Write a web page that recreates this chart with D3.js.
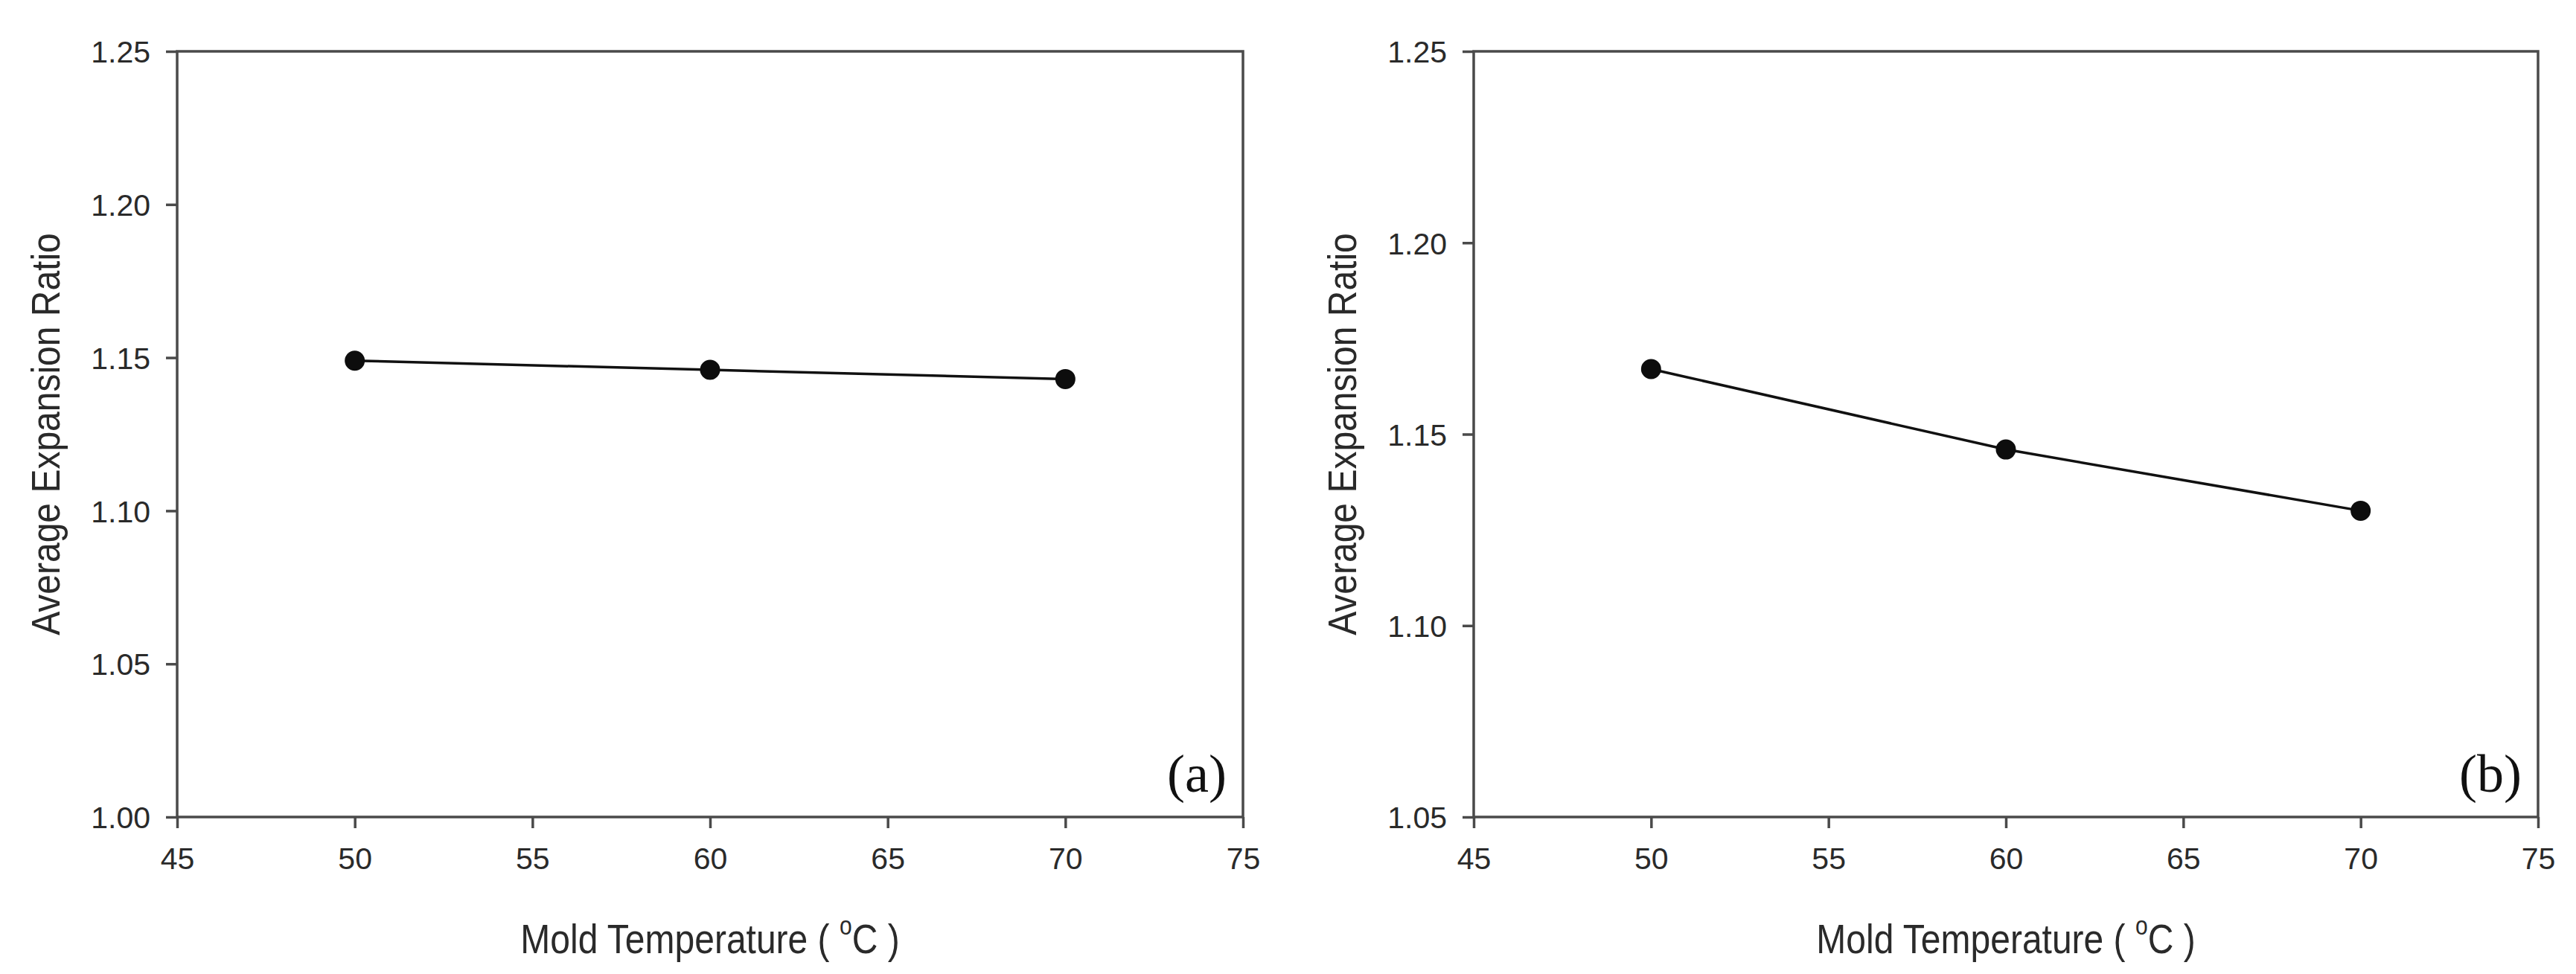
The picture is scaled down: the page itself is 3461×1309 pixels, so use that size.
<!DOCTYPE html>
<html>
<head>
<meta charset="utf-8">
<script src="https://cdn.jsdelivr.net/npm/d3@7"></script>
<style>
  body { margin: 0; background: #fff; }
  .tick text { font-family: "Liberation Sans", Arial, sans-serif; font-size: 41px; fill: #2a2a2a; }
  .tick line { stroke: #4a4a4a; stroke-width: 3.5; }
  .title { font-family: "Liberation Sans", Arial, sans-serif; font-size: 48px; fill: #2a2a2a; }
  .tag { font-family: "Liberation Serif", "Times New Roman", serif; font-size: 72px; fill: #111; }
</style>
</head>
<body>
<svg width="3461" height="1309"></svg>
<script>
// values
var moldTemps = [50, 60, 70];
var ratioA = [1.149, 1.146, 1.143];
var ratioB = [1.167, 1.146, 1.130];
var xTicks = [45, 50, 55, 60, 65, 70, 75];
var yTicksA = [1.00, 1.05, 1.10, 1.15, 1.20, 1.25];
var yTicksB = [1.05, 1.10, 1.15, 1.20, 1.25];
var panelTags = ["(a)", "(b)"];

var xTitle = "Mold Temperature ( ";
var yTitle = "Average Expansion Ratio";

var svg = d3.select("svg");
svg.append("rect").attr("width", 3461).attr("height", 1309).attr("fill", "#fff");

// window.top is taken, so plotTop
var plotTop = 69, plotBottom = 1098;

var panels = [
  {left: 238, right: 1670, values: ratioA, yTicks: yTicksA, tag: panelTags[0]},
  {left: 1980, right: 3410, values: ratioB, yTicks: yTicksB, tag: panelTags[1]}
];

panels.forEach(function (p) {
  var x = d3.scaleLinear()
    .domain([xTicks[0], xTicks[xTicks.length - 1]])
    .range([p.left, p.right]);
  var y = d3.scaleLinear()
    .domain([p.yTicks[0], p.yTicks[p.yTicks.length - 1]])
    .range([plotBottom, plotTop]);

  var g = svg.append("g");

  // x axis, ticks pointing out only
  var gx = g.append("g")
    .attr("transform", "translate(0," + plotBottom + ")")
    .call(d3.axisBottom(x)
      .tickValues(xTicks)
      .tickSize(15)
      .tickSizeOuter(0)
      .tickPadding(26)
      .tickFormat(d3.format("d")));
  gx.select(".domain").remove();

  var gy = g.append("g")
    .attr("transform", "translate(" + p.left + ",0)")
    .call(d3.axisLeft(y)
      .tickValues(p.yTicks)
      .tickSize(15)
      .tickSizeOuter(0)
      .tickPadding(21)
      .tickFormat(d3.format(".2f")));
  gy.select(".domain").remove();
  gy.selectAll(".tick text").attr("dy", "0.36em");

  // frame
  g.append("rect")
    .attr("x", p.left)
    .attr("y", plotTop)
    .attr("width", p.right - p.left)
    .attr("height", plotBottom - plotTop)
    .attr("fill", "none")
    .attr("stroke", "#4a4a4a")
    .attr("stroke-width", 3.5);

  // data line + markers
  var pts = moldTemps.map(function (t, i) { return [t, p.values[i]]; });
  var line = d3.line()
    .x(function (d) { return x(d[0]); })
    .y(function (d) { return y(d[1]); });

  g.append("path")
    .datum(pts)
    .attr("d", line)
    .attr("fill", "none")
    .attr("stroke", "#111")
    .attr("stroke-width", 3.5);

  g.selectAll("circle")
    .data(pts)
    .enter().append("circle")
    .attr("cx", function (d) { return x(d[0]); })
    .attr("cy", function (d) { return y(d[1]); })
    .attr("r", 13.5)
    .attr("fill", "#0d0d0d");

  // axis titles
  var xt = g.append("text")
    .attr("class", "title")
    .attr("text-anchor", "middle")
    .attr("transform", "translate(" + (p.left + p.right) / 2 + ",1281) scale(1,1.15)");
  xt.append("tspan").text(xTitle);
  xt.append("tspan").attr("font-size", "30px").attr("dy", -22).text("o");
  xt.append("tspan").attr("dy", 22).text("C )");

  g.append("text")
    .attr("class", "title")
    .attr("text-anchor", "middle")
    .attr("transform", "translate(" + (p.left - 158) + "," + (plotTop + plotBottom) / 2 + ") rotate(-90) scale(1,1.1)")
    .text(yTitle);

  g.append("text")
    .attr("class", "tag")
    .attr("text-anchor", "end")
    .attr("x", p.right - 22)
    .attr("y", 1064)
    .text(p.tag);
});
</script>
</body>
</html>
